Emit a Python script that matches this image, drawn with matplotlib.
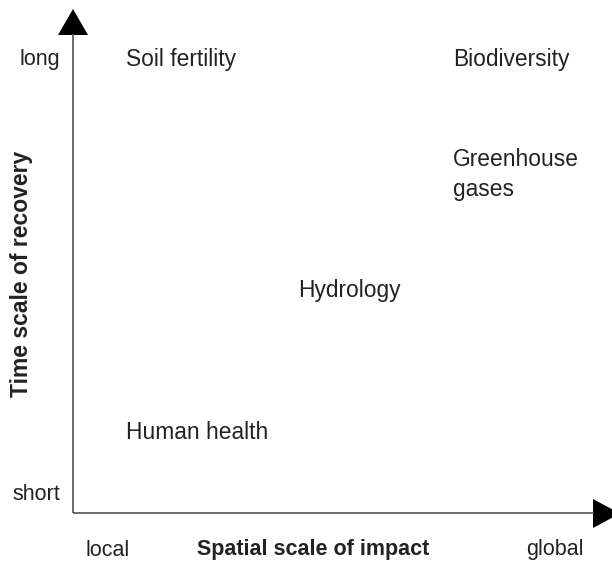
import matplotlib.pyplot as plt
from matplotlib.patches import Polygon

plt.rcParams['font.family'] = ['Liberation Sans', 'DejaVu Sans']

# impact categories: spatial scale (0 local .. 1 global), time scale (0 short .. 1 long)
labels = ['Soil fertility', 'Biodiversity', 'Greenhouse\ngases', 'Hydrology', 'Human health']
spatial = [0.098, 0.705, 0.705, 0.417, 0.098]
temporal = [0.899, 0.899, 0.671, 0.442, 0.159]

W, H = 612, 562
fig = plt.figure(figsize=(W / 100, H / 100), dpi=100, facecolor='white')

# overlay in pixel coordinates for axis arrows and end labels
ov = fig.add_axes([0, 0, 1, 1])
ov.set_xlim(0, W)
ov.set_ylim(H, 0)
ov.axis('off')

ox, oy = 73, 513
ov.plot([ox, ox], [oy, 34], color='#444444', lw=1.1, solid_capstyle='butt')
ov.plot([ox, 594], [oy, oy], color='#444444', lw=1.1, solid_capstyle='butt')
ov.add_patch(Polygon([[58, 35], [88, 35], [73, 9]], closed=True, color='black', lw=0))
ov.add_patch(Polygon([[593, 499], [593, 528], [620, 513.5]], closed=True, color='black', lw=0, clip_on=False))

fs = 15.5
tc = '#222222'
ov.text(60, 60, 'long', ha='right', va='center', fontsize=fs, color=tc)
ov.text(60, 495, 'short', ha='right', va='center', fontsize=fs, color=tc)
ov.text(108, 550, 'local', ha='center', va='center', fontsize=fs, color=tc)
ov.text(555, 550, 'global', ha='center', va='center', fontsize=fs, color=tc)
ov.text(313, 550, 'Spatial scale of impact', ha='center', va='center', fontsize=fs, fontweight='bold', color=tc)
ov.text(22, 274, 'Time scale of recovery', ha='center', va='center', rotation=90, fontsize=16.5,
        fontweight='bold', color=tc)

# data axes spanning from origin to arrow tip
ax = fig.add_axes([ox / W, (H - oy) / H, (W - ox) / W, (oy - 9) / H])
ax.set_xlim(0, 1)
ax.set_ylim(0, 1)
ax.axis('off')
ax.patch.set_alpha(0)

for lab, x, y in zip(labels, spatial, temporal):
    ax.text(x, y, lab, ha='left', va='center', fontsize=16.4, linespacing=1.38, color=tc)

fig.savefig('out.png', dpi=100, facecolor='white')
